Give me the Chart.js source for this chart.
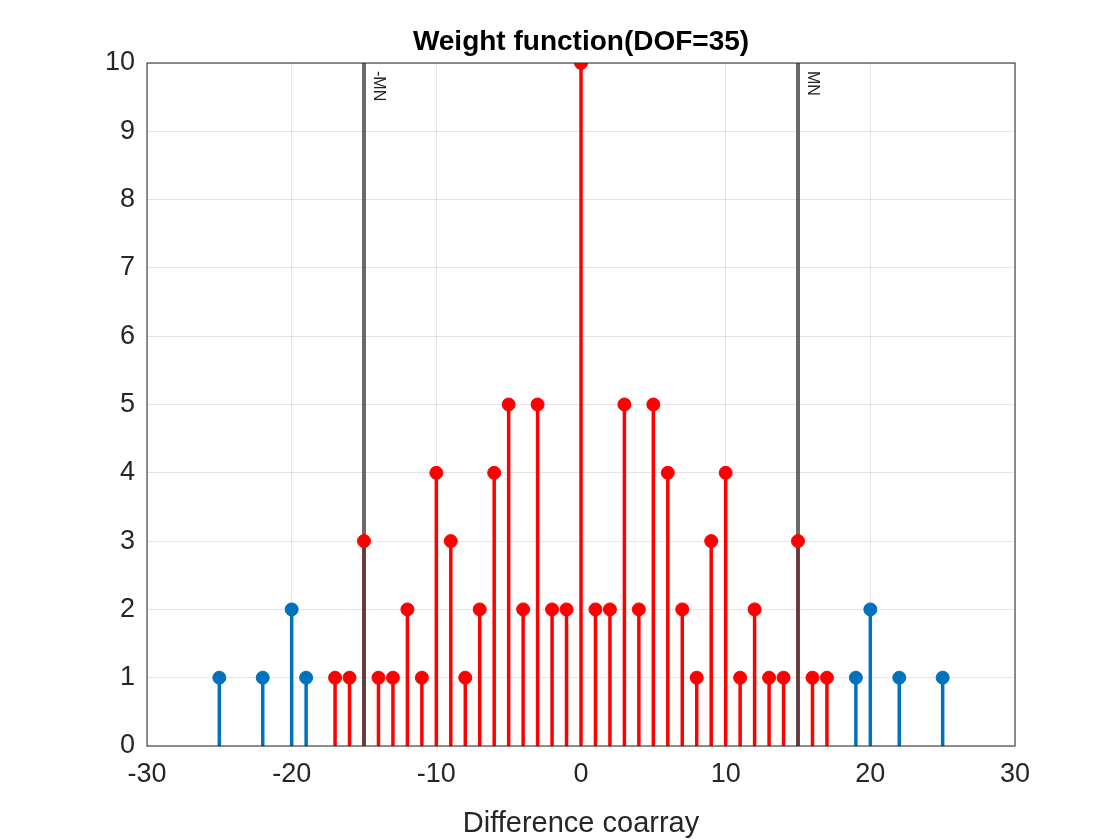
<!DOCTYPE html>
<html>
<head>
<meta charset="utf-8">
<script src="https://cdn.jsdelivr.net/npm/chart.js@4"></script>
<style>
  html, body { margin: 0; padding: 0; background: #fff; }
  #wrap { width: 1120px; height: 840px; }
</style>
</head>
<body>
<div id="wrap"><canvas id="weightChart"></canvas></div>
<script>
// lags and weights
const redLags = [-17, -16, -15, -14, -13, -12, -11, -10, -9, -8, -7, -6, -5, -4, -3, -2, -1, 0,
                 1, 2, 3, 4, 5, 6, 7, 8, 9, 10, 11, 12, 13, 14, 15, 16, 17];
const redWeights = [1, 1, 3, 1, 1, 2, 1, 4, 3, 1, 2, 4, 5, 2, 5, 2, 2, 10,
                    2, 2, 5, 2, 5, 4, 2, 1, 3, 4, 1, 2, 1, 1, 3, 1, 1];
const blueLags = [-25, -22, -20, -19, 19, 20, 22, 25];
const blueWeights = [1, 1, 2, 1, 1, 2, 1, 1];
const mnLines = [-15, 15];
const mnLabels = ['-MN', 'MN'];
const xTicks = [-30, -20, -10, 0, 10, 20, 30];

const FONT = '"Liberation Sans", Arial, sans-serif';
const RED = '#ff0000';
const BLUE = '#0072bd';
const GRAY = 'rgba(70,70,70,0.8)';

const toPoints = (xs, ys) => xs.map((x, i) => ({ x: x, y: ys[i] }));

// stems and MN lines go under the markers
const stemPlugin = {
    id: 'stems',
    beforeDatasetsDraw(chart) {
        const { ctx, chartArea: a, scales: { x, y } } = chart;
        ctx.save();
        chart.data.datasets.forEach(ds => {
            if (!ds.stem) return;
            ctx.strokeStyle = ds.borderColor;
            ctx.lineWidth = 3.5;
            ds.data.forEach(p => {
                ctx.beginPath();
                ctx.moveTo(x.getPixelForValue(p.x), y.getPixelForValue(0));
                ctx.lineTo(x.getPixelForValue(p.x), y.getPixelForValue(p.y));
                ctx.stroke();
            });
        });
        mnLines.forEach((v, i) => {
            const px = x.getPixelForValue(v);
            ctx.strokeStyle = GRAY;
            ctx.lineWidth = 4;
            ctx.beginPath();
            ctx.moveTo(px, a.top);
            ctx.lineTo(px, a.bottom);
            ctx.stroke();
            ctx.save();
            ctx.translate(px + 12, a.top + 8);
            ctx.rotate(Math.PI / 2);
            ctx.fillStyle = '#222';
            ctx.font = '16px ' + FONT;
            ctx.textBaseline = 'middle';
            ctx.fillText(mnLabels[i], 0, -2);
            ctx.restore();
        });
        ctx.restore();
    },
    afterDatasetsDraw(chart) {
        const { ctx, chartArea: a } = chart;
        ctx.save();
        ctx.strokeStyle = '#262626';
        ctx.lineWidth = 1;
        ctx.strokeRect(a.left, a.top, a.right - a.left, a.bottom - a.top);
        ctx.fillStyle = '#000';
        ctx.textAlign = 'center';
        ctx.font = 'bold 28px ' + FONT;
        ctx.fillText('Weight function(DOF=35)', (a.left + a.right) / 2, 50);
        ctx.fillStyle = '#262626';
        ctx.font = '29px ' + FONT;
        ctx.fillText('Difference coarray', (a.left + a.right) / 2, 832);
        ctx.restore();
    }
};

new Chart(document.getElementById('weightChart'), {
    type: 'scatter',
    data: {
        datasets: [{
            data: toPoints(redLags, redWeights),
            stem: true,
            borderColor: RED,
            backgroundColor: RED,
            pointRadius: 6.5,
            pointHoverRadius: 6.5
        }, {
            data: toPoints(blueLags, blueWeights),
            stem: true,
            borderColor: BLUE,
            backgroundColor: BLUE,
            pointRadius: 6.5,
            pointHoverRadius: 6.5
        }]
    },
    options: {
        responsive: true,
        maintainAspectRatio: false,
        animation: false,
        layout: { padding: { top: 63, right: 105, bottom: 0, left: 0 } },
        plugins: { legend: { display: false }, tooltip: { enabled: false } },
        scales: {
            x: {
                type: 'linear', min: -30, max: 30,
                afterBuildTicks: s => { s.ticks = xTicks.map(v => ({ value: v })); },
                afterFit: s => { s.height = 94; },
                ticks: { color: '#262626', font: { family: FONT, size: 27 }, padding: 12 },
                grid: { color: 'rgba(0,0,0,0.1)', drawTicks: false },
                border: { display: false }
            },
            y: {
                min: 0, max: 10,
                afterFit: s => { s.width = 147; },
                ticks: { stepSize: 1, color: '#262626', font: { family: FONT, size: 27 }, padding: 12 },
                grid: { color: 'rgba(0,0,0,0.1)', drawTicks: false },
                border: { display: false }
            }
        }
    },
    plugins: [stemPlugin]
});
</script>
</body>
</html>
